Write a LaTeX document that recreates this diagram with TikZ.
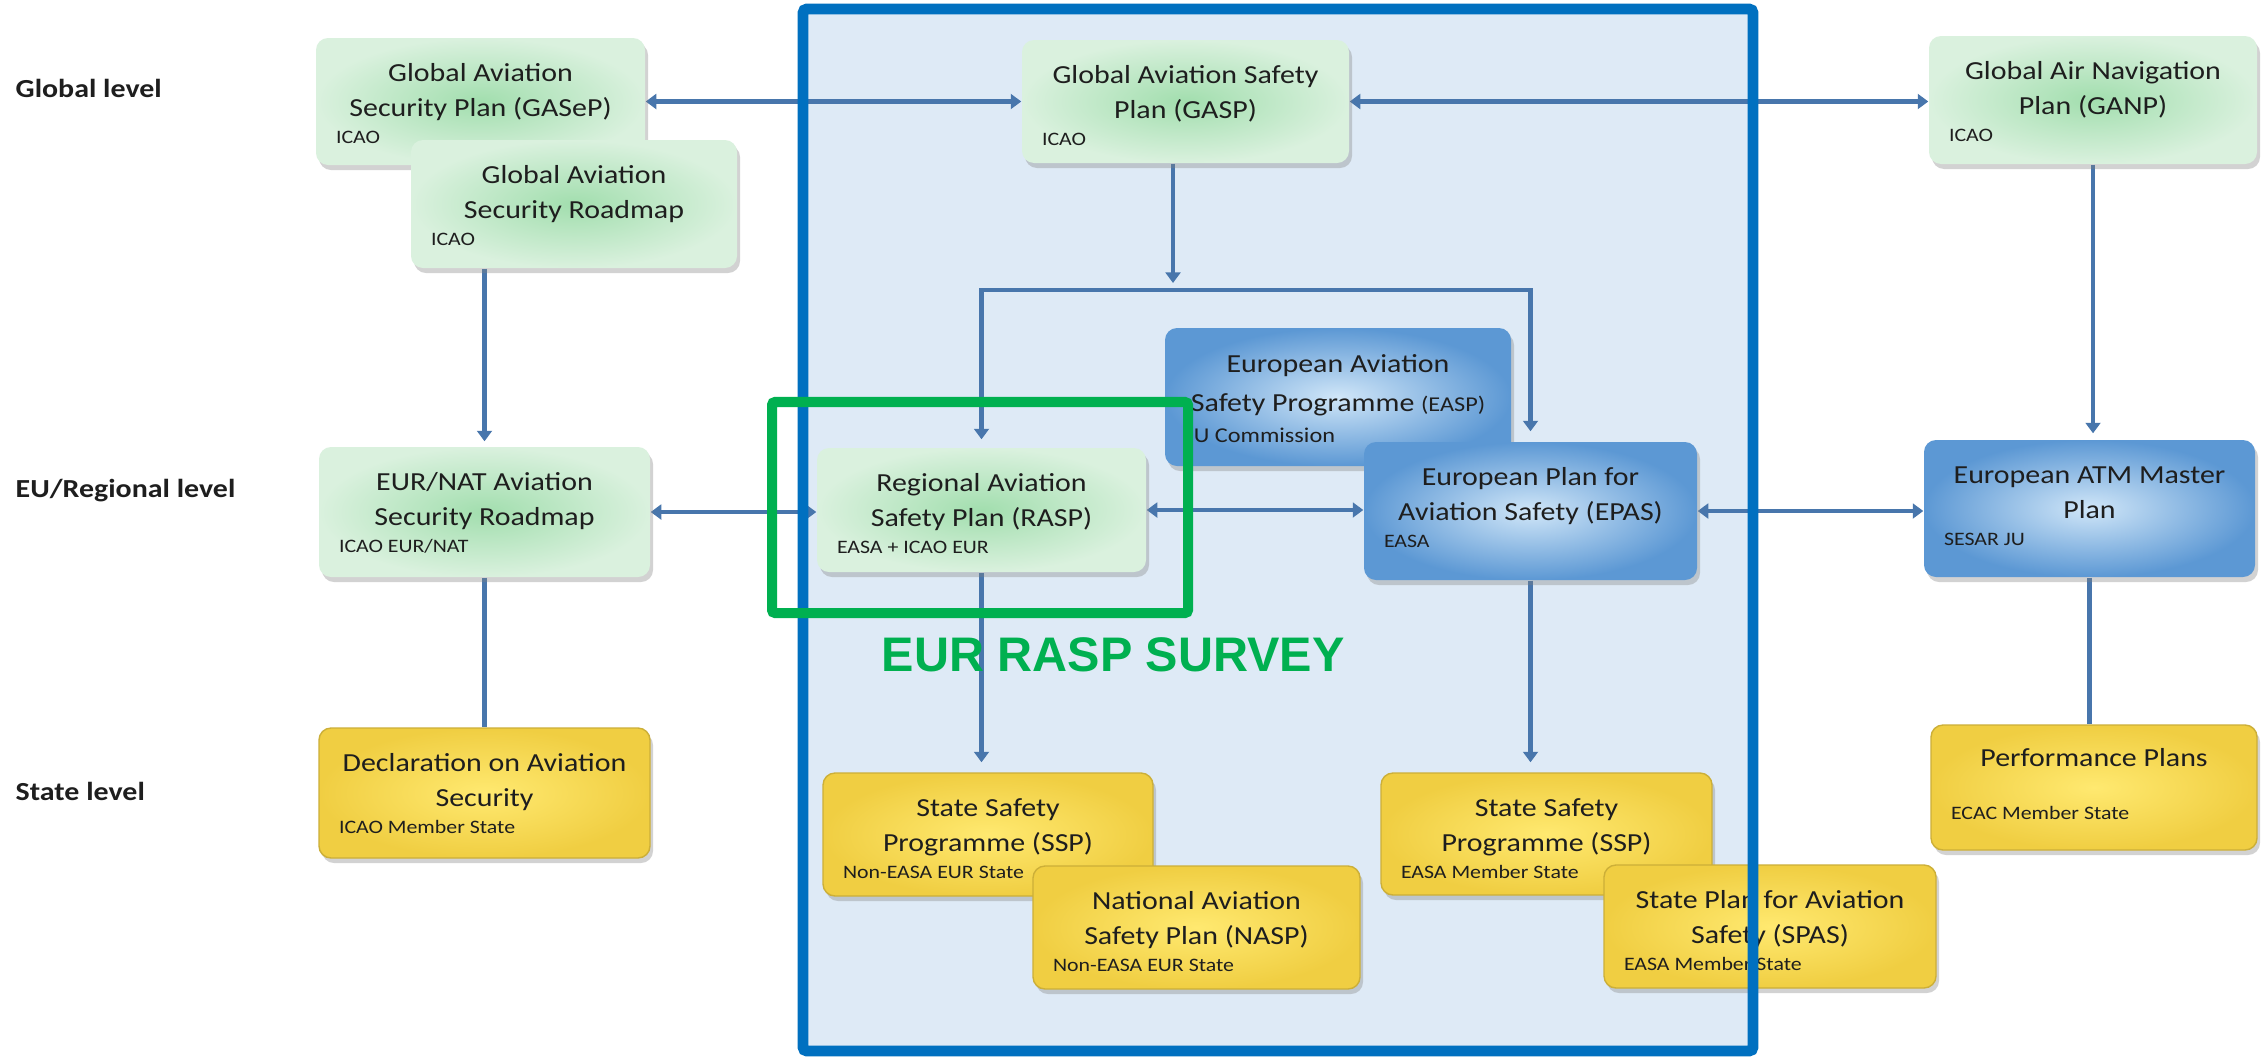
\documentclass[tikz,border=0pt]{standalone}
\usepackage{fontspec}
\setmainfont{Carlito}[FakeStretch=1.15]
\newfontfamily\survfont{Liberation Sans}
\usetikzlibrary{arrows.meta,calc,fit,shadows}
\pgfdeclarelayer{bg}\pgfdeclarelayer{lines}\pgfdeclarelayer{top}
\pgfsetlayers{bg,lines,main,top}
\definecolor{lineblue}{RGB}{72,118,172}
\definecolor{frameblue}{RGB}{0,112,192}
\definecolor{framegreen}{RGB}{0,176,80}
\definecolor{panel}{RGB}{222,234,246}
\definecolor{gin}{RGB}{162,222,174}
\definecolor{gout}{RGB}{218,241,222}
\definecolor{bin}{RGB}{208,230,248}
\definecolor{bout}{RGB}{92,152,212}
\definecolor{yin}{RGB}{255,233,112}
\definecolor{yout}{RGB}{240,206,66}
\definecolor{txt}{RGB}{30,30,30}
\tikzset{
  box/.style={rounded corners=0.12cm, inner sep=0pt,
    drop shadow={opacity=0.35, shadow xshift=0.03cm, shadow yshift=-0.05cm}},
  gbox/.style={box, inner color=gin, outer color=gout},
  bbox/.style={box, inner color=bin, outer color=bout},
  ybox/.style={box, inner color=yin, outer color=yout, draw=yout!85!black, line width=0.4pt},
  maintext/.style={anchor=base, inner sep=0pt, text=txt, font=\fontsize{7.4}{9}\selectfont},
  smalltext/.style={anchor=base west, inner sep=0pt, text=txt, font=\fontsize{5.4}{6}\selectfont},
  lvl/.style={anchor=base west, inner sep=0pt, text=txt, font=\fontsize{7.4}{9}\selectfont\bfseries},
  conn/.style={draw=lineblue, line width=1.2pt},
  arr/.style={conn, -{Triangle[length=3pt,width=4.2pt]}},
  darr/.style={conn, {Triangle[length=3pt,width=4.2pt]}-{Triangle[length=3pt,width=4.2pt]}},
}
\newcommand\planbox[7]{%
  \node[#2, fit={(#3) (#4)}] (#1) {};
  \node[maintext] (#1-a) at ($(#1.north)+(0,44)$) {#5};
  \node[maintext] (#1-b) at ($(#1.north)+(0,79)$) {#6};
  \node[smalltext] (#1-s) at ($(#1.north west)+(20,106)$) {#7};
}
\begin{document}
\begin{tikzpicture}[x=0.01cm, y=-0.01cm]
\useasboundingbox (0,0) rectangle (2261,1057);
\begin{pgfonlayer}{bg}
  \fill[white] (0,0) rectangle (2261,1057);
  \fill[panel] (803,9) rectangle (1753,1051);
\end{pgfonlayer}

% level labels
\node[lvl] (Lglobal) at (15,97) {Global level};
\node[lvl] (Leu) at (15,497) {EU/Regional level};
\node[lvl] (Lstate) at (15,800) {State level};

% global level
\planbox{GASeP}{gbox}{316,38}{645,165}{Global Aviation}{Security Plan (GASeP)}{ICAO}
\planbox{Roadmap}{gbox}{411,140}{737,268}{Global Aviation}{Security Roadmap}{ICAO}
\planbox{GASP}{gbox}{1022,40}{1349,163}{Global Aviation Safety}{Plan (GASP)}{ICAO}
\planbox{GANP}{gbox}{1929,36}{2257,164}{Global Air Navigation}{Plan (GANP)}{ICAO}

% regional level
\planbox{EURNAT}{gbox}{319,447}{650,577}{EUR/NAT Aviation}{Security Roadmap}{ICAO EUR/NAT}
\planbox{RASP}{gbox}{817,448}{1146,572}{Regional Aviation}{Safety Plan (RASP)}{EASA + ICAO EUR}
\node[bbox, fit={(1165,328) (1511,466)}] (EASP) {};
\node[maintext] (EASP-a) at ($(EASP.north)+(0,45)$) {European Aviation};
\node[maintext] (EASP-b) at ($(EASP.north)+(0,84)$) {Safety Programme {\fontsize{6}{7}\selectfont(EASP)}};
\node[smalltext, font=\fontsize{6}{7}\selectfont] (EASP-s) at ($(EASP.north west)+(17,115)$) {EU Commission};
\planbox{EPAS}{bbox}{1364,442}{1697,580}{European Plan for}{Aviation Safety (EPAS)}{EASA}
\planbox{ATM}{bbox}{1924,440}{2255,577}{European ATM Master}{Plan}{SESAR JU}

% state level
\planbox{Decl}{ybox}{319,728}{650,858}{Declaration on Aviation}{Security}{ICAO Member State}
\planbox{SSPL}{ybox}{823,773}{1153,896}{State Safety}{Programme (SSP)}{Non-EASA EUR State}
\planbox{NASP}{ybox}{1033,866}{1360,989}{National Aviation}{Safety Plan (NASP)}{Non-EASA EUR State}
\planbox{SSPR}{ybox}{1381,773}{1712,895}{State Safety}{Programme (SSP)}{EASA Member State}
\planbox{SPAS}{ybox}{1604,865}{1936,988}{State Plan for Aviation}{Safety (SPAS)}{EASA Member State}
\node[ybox, fit={(1931,725) (2257,850)}] (Perf) {};
\node[maintext] (Perf-a) at ($(Perf.north)+(0,42)$) {Performance Plans};
\node[smalltext] (Perf-s) at ($(Perf.north west)+(20,95)$) {ECAC Member State};

% connectors
\coordinate (bj) at (1173,290);
\begin{pgfonlayer}{lines}
  \draw[darr] (GASeP.east) -- (GASeP.east -| GASP.west);
  \draw[darr] (GASP.east) -- (GASP.east -| GANP.west);
  \draw[arr] (bj |- GASP.south) -- ([yshift=0.07cm]bj);
  \draw[arr] (bj) -| ([yshift=0.08cm]RASP.north);
  \draw[arr] (bj) -| ([yshift=0.1cm]EPAS.north);
  \draw[darr] (EURNAT.east) -- (EURNAT.east -| RASP.west);
  \draw[darr] (RASP.east) -- (RASP.east -| EPAS.west);
  \draw[darr] (EPAS.east) -- (EPAS.east -| ATM.west);
  \draw[arr] (EURNAT.north |- Roadmap.south) -- ([yshift=0.05cm]EURNAT.north);
  \draw[conn] (EURNAT.south) -- (Decl.north);
  \draw[arr] (RASP.south) -- ([yshift=0.1cm]RASP.south |- SSPL.north);
  \draw[arr] (EPAS.south) -- ([yshift=0.1cm]EPAS.south |- SSPR.north);
  \draw[arr] (GANP.south) -- ([yshift=0.06cm]GANP.south |- ATM.north);
  \draw[conn] (ATM.south) -- (ATM.south |- Perf.north);
\end{pgfonlayer}

\begin{pgfonlayer}{top}
  \draw[frameblue, line width=3.1pt, rounded corners=0.04cm] (803,9) rectangle (1753,1051);
  \draw[framegreen, line width=2.85pt, rounded corners=0.03cm] (772,402) rectangle (1188,613);
  \node[anchor=base west, inner sep=0pt, text=framegreen,
        font={\survfont\bfseries\fontsize{13.8}{16}\selectfont}] (survey) at (881,671) {EUR RASP SURVEY};
\end{pgfonlayer}
\end{tikzpicture}
\end{document}
